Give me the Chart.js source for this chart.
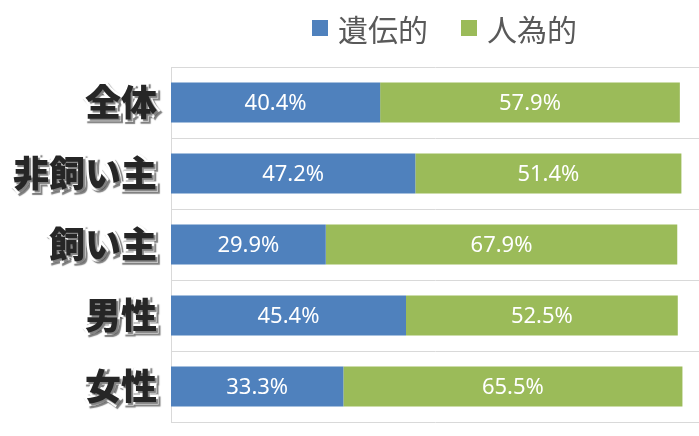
<!DOCTYPE html>
<html>
<head>
<meta charset="utf-8">
<script src="https://cdn.jsdelivr.net/npm/chart.js@4/dist/chart.umd.min.js"></script>
<style>
  html, body { margin: 0; padding: 0; background: #fff; }
  #wrap { position: relative; width: 699px; height: 436px; }
  #legend {
    position: absolute; top: 6px; left: 312px;
    display: flex; align-items: center;
    font-family: "Noto Sans CJK JP", sans-serif; font-size: 30px; color: #595959;
  }
  .sw { display: inline-block; width: 16px; height: 16px; margin-right: 10px; }
  .item { display: flex; align-items: center; margin-right: 33px; }
</style>
</head>
<body>
<div id="wrap">
  <canvas id="c" width="699" height="436"></canvas>
  <div id="legend"></div>
</div>
<script>
// データ
const categories = ["全体", "非飼い主", "飼い主", "男性", "女性"];
const seriesNames = ["遺伝的", "人為的"];
const idenValues = [40.4, 47.2, 29.9, 45.4, 33.3];
const jinniValues = [57.9, 51.4, 67.9, 52.5, 65.5];
const colors = ["#4f81bd", "#9bbb59"];

// 凡例 (HTML)
const legendEl = document.getElementById("legend");
seriesNames.forEach((name, i) => {
  const item = document.createElement("span");
  item.className = "item";
  const sw = document.createElement("span");
  sw.className = "sw";
  sw.style.background = colors[i];
  item.appendChild(sw);
  item.appendChild(document.createTextNode(name));
  legendEl.appendChild(item);
});

// バー内の数値ラベル + 軸ラベルの影
const valueLabels = {
  id: "valueLabels",
  afterDatasetsDraw(chart) {
    const ctx = chart.ctx;
    ctx.save();
    ctx.font = "22px 'Noto Sans', sans-serif";
    ctx.fillStyle = "#fff";
    ctx.textAlign = "center";
    ctx.textBaseline = "middle";
    chart.data.datasets.forEach((ds, di) => {
      chart.getDatasetMeta(di).data.forEach((bar, i) => {
        const p = bar.getProps(["x", "y", "base"], true);
        ctx.fillText(ds.data[i].toFixed(1) + "%", (p.x + p.base) / 2, p.y + 1);
      });
    });
    ctx.restore();
    // 次に描かれる y 軸ラベルに影をつける
    ctx.shadowColor = "rgba(0,0,0,0.5)";
    ctx.shadowOffsetX = 2;
    ctx.shadowOffsetY = 2;
    ctx.shadowBlur = 1;
  },
  afterDraw(chart) {
    const ctx = chart.ctx;
    ctx.shadowColor = "transparent";
    ctx.shadowOffsetX = 0;
    ctx.shadowOffsetY = 0;
    ctx.shadowBlur = 0;
  }
};

new Chart(document.getElementById("c"), {
  type: "bar",
  data: {
    labels: categories,
    datasets: [
      { label: seriesNames[0], data: idenValues, backgroundColor: colors[0] },
      { label: seriesNames[1], data: jinniValues, backgroundColor: colors[1] }
    ]
  },
  options: {
    indexAxis: "y",
    responsive: false,
    animation: false,
    layout: { padding: { top: 67, bottom: 14, left: 0, right: 0 } },
    datasets: { bar: { categoryPercentage: 1, barPercentage: 0.565 } },
    plugins: { legend: { display: false }, tooltip: { enabled: false } },
    scales: {
      x: {
        stacked: true,
        min: 0,
        max: 102,
        display: false
      },
      y: {
        stacked: true,
        grid: { color: "#d9d9d9", lineWidth: 1, drawTicks: false, offset: true },
        border: { color: "#d9d9d9" },
        ticks: {
          z: 1,
          padding: 14,
          color: "#262626",
          textStrokeColor: "#fff",
          textStrokeWidth: 5,
          font: { family: "'Noto Sans CJK JP', sans-serif", size: 36, weight: 900 }
        },
        afterFit(scale) {
          scale.width = 171;
          scale.paddingTop = 0;
          scale.paddingBottom = 0;
        }
      }
    }
  },
  plugins: [valueLabels]
});
</script>
</body>
</html>
